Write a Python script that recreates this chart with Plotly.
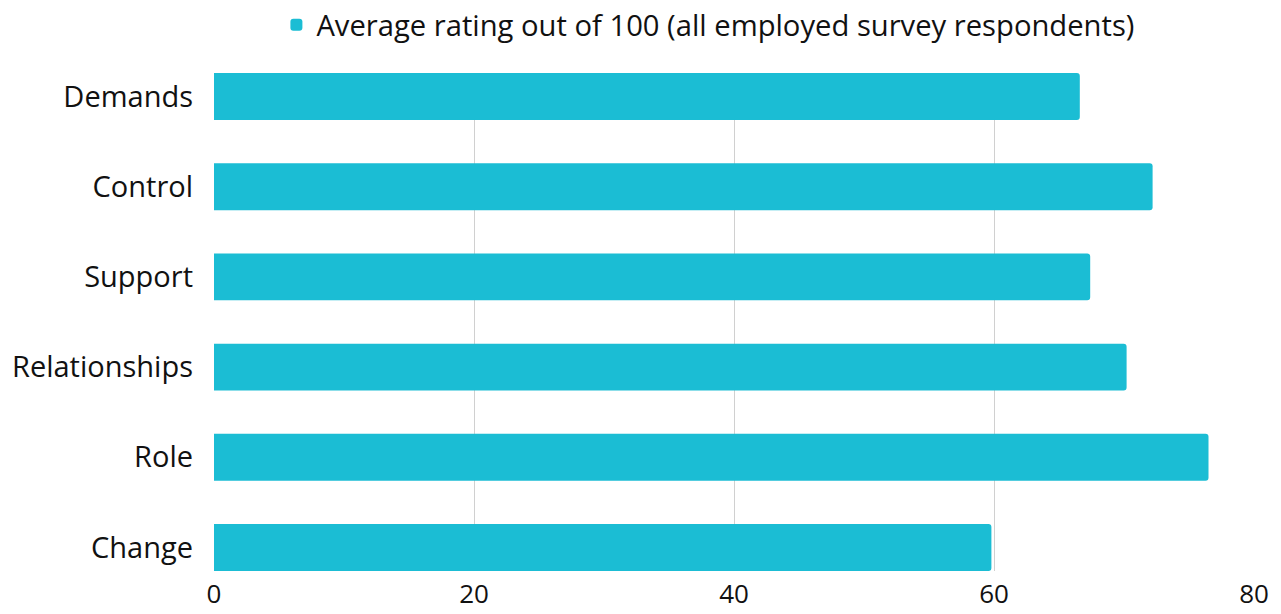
import plotly.graph_objects as go

categories = ["Demands", "Control", "Support", "Relationships", "Role", "Change"]
values = [66.6, 72.2, 67.4, 70.2, 76.5, 59.8]
series_name = "Average rating out of 100 (all employed survey respondents)"
x_ticks = [0, 20, 40, 60, 80]

fig = go.Figure()
fig.add_trace(go.Bar(
    y=categories,
    x=values,
    orientation="h",
    name=series_name,
    marker=dict(color="#1bbdd4", line=dict(width=0)),
    width=0.52,
    showlegend=True,
))

fig.update_layout(
    width=1281,
    height=614,
    margin=dict(l=214, r=27, t=73, b=43, autoexpand=False),
    paper_bgcolor="white",
    plot_bgcolor="white",
    barcornerradius=3,
    font=dict(family="Open Sans", size=28, color="#111111"),
    legend=dict(
        orientation="h",
        x=0.06, xanchor="left",
        y=0.918, yanchor="bottom",
        yref="container",
        font=dict(size=29.2, family="Open Sans"),
        itemwidth=30,
        bgcolor="rgba(0,0,0,0)",
    ),
    xaxis=dict(
        range=[0, 80],
        tickvals=x_ticks,
        ticktext=[str(v) for v in x_ticks],
        showgrid=True,
        gridcolor="#d0d0d0",
        gridwidth=1,
        zeroline=False,
        showline=False,
        ticks="",
        ticklabelstandoff=5,
        tickfont=dict(size=26),
        automargin=False,
        fixedrange=True,
    ),
    yaxis=dict(
        categoryorder="array",
        categoryarray=categories,
        autorange=False,
        range=[5.26, -0.26],
        showgrid=False,
        zeroline=False,
        showline=False,
        ticks="",
        ticklabelstandoff=20,
        tickfont=dict(size=29),
        automargin=False,
    ),
)

fig.write_html("out.html")
